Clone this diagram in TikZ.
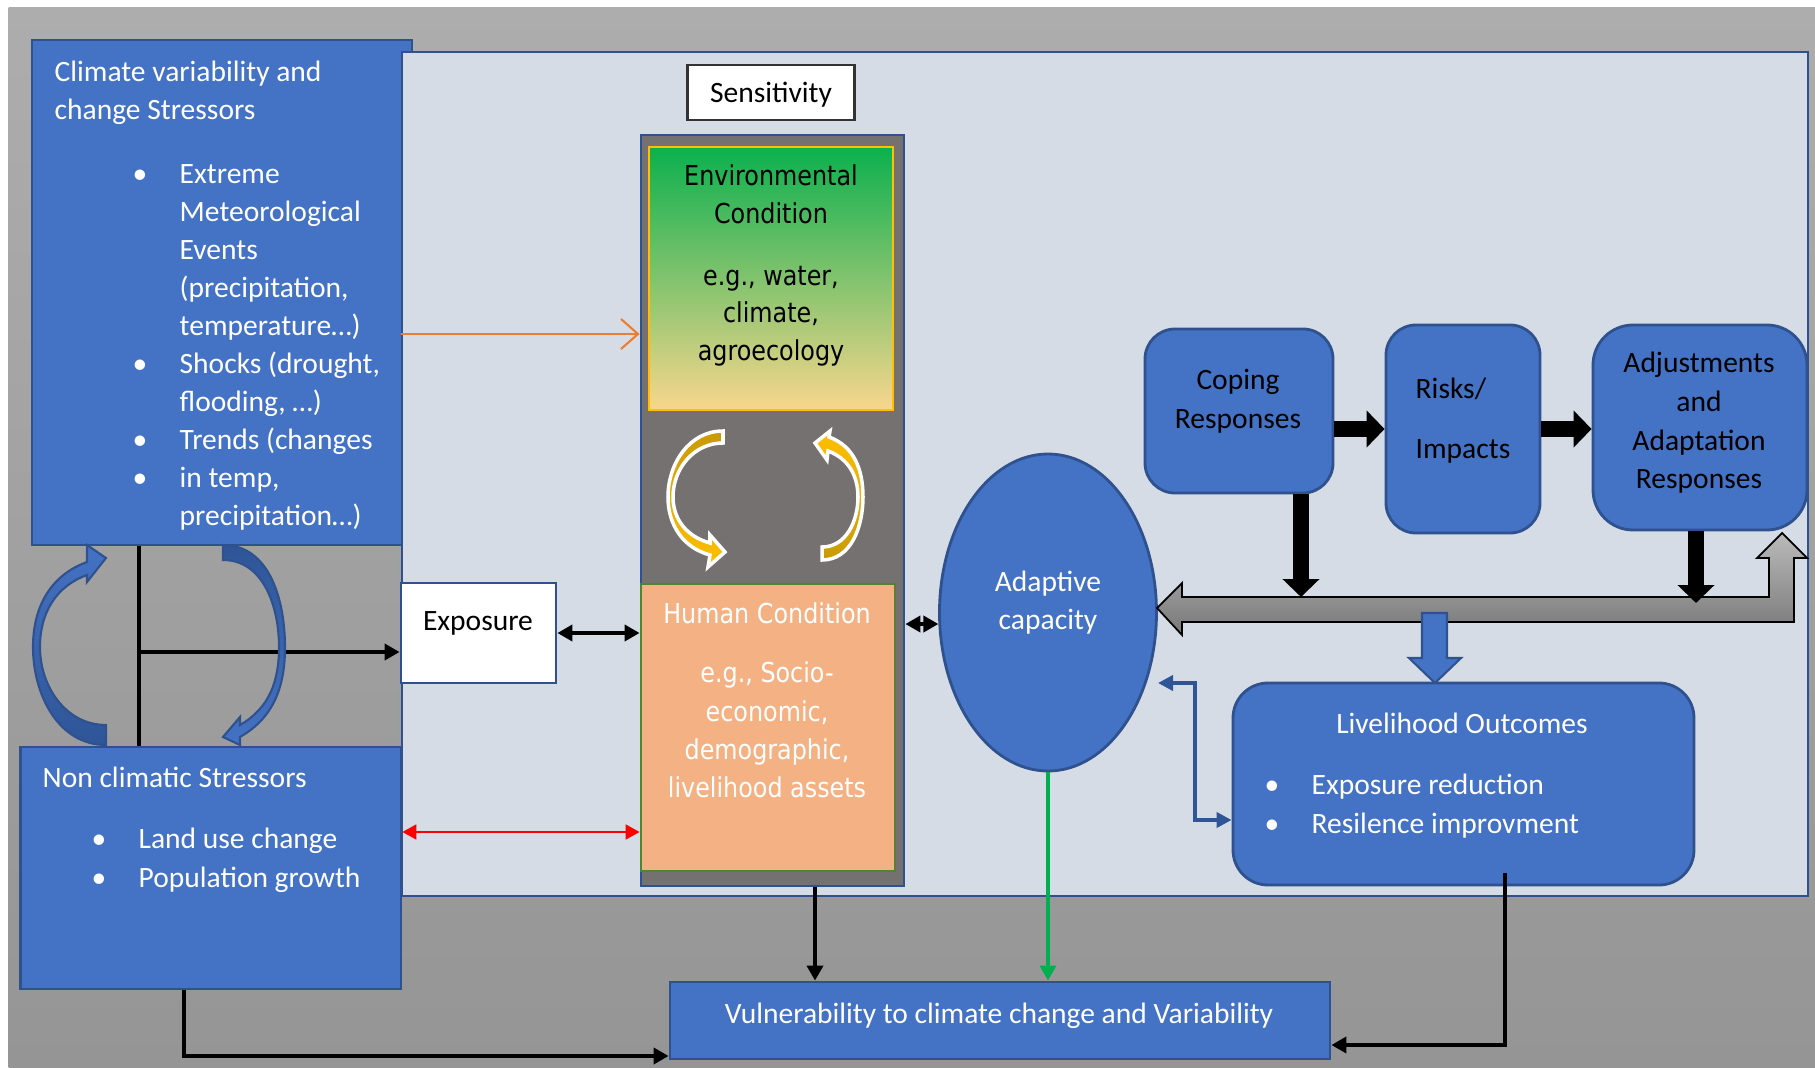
\documentclass[tikz,border=0pt]{standalone}
\usepackage{fontspec}
\setmainfont{Carlito}
\newfontfamily\tahoma[FakeStretch=0.87]{DejaVu Sans}
\usetikzlibrary{positioning, arrows.meta, fit, shapes.geometric}

\definecolor{boxblue}{HTML}{4472C4}
\definecolor{edgeblue}{HTML}{2F528F}
\definecolor{arrowblue}{HTML}{2F5597}
\definecolor{panel}{HTML}{D6DCE5}
\definecolor{sensgrey}{HTML}{767171}
\definecolor{humanfill}{HTML}{F4B183}
\definecolor{humanedge}{HTML}{548235}
\definecolor{envgreen}{HTML}{0BB04E}
\definecolor{envsand}{HTML}{F9D68D}
\definecolor{gold}{HTML}{FFC000}
\definecolor{darkgold}{HTML}{C99A06}
\definecolor{linegreen}{HTML}{00B050}
\definecolor{linkorange}{HTML}{ED7D31}
\definecolor{bgtop}{HTML}{ADADAD}
\definecolor{bgbottom}{HTML}{959595}

\newcommand{\itemdot}{\makebox[0.47cm][l]{•}}
\newcommand{\itemgap}{\hspace*{0.47cm}}

\begin{document}
\begin{tikzpicture}[
    >={Triangle[length=0.15cm,width=0.16cm]},
    bluebox/.style={draw=edgeblue, fill=boxblue, line width=0.8pt, inner sep=0pt},
    roundbox/.style={bluebox, rounded corners=0.3cm},
    txt/.style={inner sep=0pt, font=\fontsize{8.4}{10.8}\selectfont},
    wtxt/.style={txt, text=white},
    tahomatxt/.style={inner sep=0pt, align=center, font=\tahoma\fontsize{7.8}{10.7}\selectfont},
    blkline/.style={draw=black, line width=1.1pt},
    fatarrow/.style={line width=0.165cm, -{Triangle[length=0.18cm,width=0.36cm]}},
    bluecurve/.style={draw=edgeblue, line width=0.6pt},
    goldcurve/.style={draw=white, line width=1pt}
  ]
		\useasboundingbox (0,0) rectangle (18.15,10.67);
		% Draw background
		\fill[white] (0,0) rectangle (18.15,10.67);
		\fill[top color=bgtop, bottom color=bgbottom] (0.085,0) rectangle (18.15,10.59);
		% Stressor boxes and panel
		\node[bluebox, fit={(0.32,5.22) (4.12,10.27)}] (climate) {};
		\node[draw=edgeblue, fill=panel, line width=0.8pt, inner sep=0pt, fit={(4.02,1.71) (18.08,10.15)}] (bigbox) {};
		\node[bluebox, fit={(0.205,0.78) (4.01,3.20)}] (nonclim) {};
		% Sensitivity column
		\node[txt, draw=black!80, fill=white, line width=0.6pt, minimum width=1.67cm, minimum height=0.556cm, text depth=0pt] (senslabel) at (7.71,9.745) {Sensitivity};
		\node[draw=edgeblue, fill=sensgrey, line width=0.8pt, inner sep=0pt, fit={(6.41,1.81) (9.04,9.32)}] (sens) {};
		\node[draw=gold, line width=0.8pt, top color=envgreen, bottom color=envsand, inner sep=0pt, fit={(6.49,6.57) (8.93,9.20)}] (env) {};
		\node[draw=humanedge, fill=humanfill, line width=0.8pt, inner sep=0pt, fit={(6.41,1.96) (8.95,4.83)}] (human) {};
		% Exposure
		\node[draw=edgeblue, fill=white, line width=0.8pt, inner sep=0pt, fit={(4.01,3.84) (5.56,4.84)}] (expo) {};
		% Adaptive capacity and responses
		\node[bluebox, ellipse, minimum width=2.17cm, minimum height=3.17cm] (adapt) at (10.48,4.545) {};
		\node[roundbox, fit={(11.45,5.74) (13.33,7.38)}] (coping) {};
		\node[roundbox, fit={(13.86,5.34) (15.40,7.42)}] (risks) {};
		\node[roundbox, rounded corners=0.4cm, fit={(15.93,5.37) (18.07,7.42)}] (adjust) {};
		\node[roundbox, rounded corners=0.35cm, fit={(12.33,1.82) (16.94,3.84)}] (live) {};
		\node[bluebox, fit={(6.70,0.08) (13.30,0.85)}] (vuln) {};

		% Grey feedback arrow
		\filldraw[top color=black!27, bottom color=black!53, draw=black, line width=0.5pt]
		  (11.57,4.59) -- (11.82,4.84) -- (11.82,4.70) -- (17.69,4.70) -- (17.69,5.09) -- (17.57,5.09)
		  -- (17.82,5.34) -- (18.07,5.09) -- (17.94,5.09) -- (17.94,4.45) -- (11.82,4.45) -- (11.82,4.32) -- cycle;
		% Thick black arrows
		\coordinate (greyhit1) at (13.01,4.70);
		\coordinate (greyhit2) at (16.96,4.64);
		\draw[fatarrow] (coping.east |- risks.west) -- (risks.west);
		\draw[fatarrow] (risks.east) -- (risks.east -| adjust.west);
		\draw[fatarrow] (coping.south -| greyhit1) -- (greyhit1);
		\draw[fatarrow] (adjust.south -| greyhit2) -- (greyhit2);
		% Blue block arrow to outcomes
		\filldraw[fill=boxblue, draw=edgeblue, line width=0.6pt] (14.22,4.54) -- (14.47,4.54) -- (14.47,4.09)
		  -- (14.61,4.09) -- (14.35,3.84) -- (14.09,4.09) -- (14.22,4.09) -- cycle;

		% Connectors
		\draw[draw=linkorange, line width=0.6pt, -{Straight Barb[length=0.17cm,width=0.3cm]}] (bigbox.west |- 0,7.33) -- (sens.west |- 0,7.33);
		\coordinate (split) at (1.39,4.15);
		\draw[blkline] (climate.south -| split) -- (nonclim.north -| split);
		\draw[blkline, ->] (split) -- (expo.west |- split);
		\draw[blkline, <->] (expo.east) -- (expo.east -| human.west);
		\draw[blkline, <->] (adapt.186 -| sens.east) -- (adapt.186);
		\draw[red, line width=0.5pt, {Triangle[length=0.14cm,width=0.15cm]}-{Triangle[length=0.14cm,width=0.15cm]}] (nonclim.east |- 0,2.35) -- (human.west |- 0,2.35);
		\draw[blkline, ->] (sens.south -| 8.15,0) -- (vuln.north -| 8.15,0);
		\draw[draw=linegreen, line width=1pt, ->] (adapt.south) -- (adapt.south |- vuln.north);
		\coordinate (liveout) at (15.05,1.94);
		\draw[blkline, ->] (liveout) |- (vuln.east |- 0,0.22);
		\draw[blkline, ->] (nonclim.south -| 1.84,0) |- (vuln.west |- 0,0.11);
		\coordinate (adaptgap) at (11.58,3.84);
		\draw[draw=arrowblue, line width=1.4pt, {Triangle[length=0.15cm,width=0.15cm]}-{Triangle[length=0.15cm,width=0.15cm]}] (adaptgap) -| (11.95,2.47) -- (live.west |- 0,2.47);

		% Curved arrows between stressors
		\filldraw[bluecurve, top color=boxblue, bottom color=arrowblue]
		  (1.06,3.22) to[out=180,in=-90] (0.33,4.20) to[out=90,in=200] (0.87,5.05) -- (0.87,5.22) -- (1.06,5.09)
		  -- (0.87,4.85) -- (0.87,4.92) to[out=200,in=90] (0.40,4.20) to[out=-90,in=180] (1.06,3.42) -- cycle;
		\filldraw[bluecurve, top color=arrowblue, bottom color=boxblue]
		  (2.23,5.22) to[out=0,in=90] (2.85,4.20) to[out=-90,in=30] (2.40,3.30) -- (2.40,3.22) -- (2.23,3.30)
		  -- (2.40,3.50) -- (2.40,3.42) to[out=30,in=-90] (2.79,4.20) to[out=90,in=0] (2.23,5.07) -- cycle;
		% Curved arrows between conditions
		\filldraw[goldcurve, top color=darkgold, bottom color=gold]
		  (7.23,6.36) to[out=180,in=90] (6.68,5.70) to[out=-90,in=165] (7.10,5.12) -- (7.08,5.00) -- (7.25,5.15)
		  -- (7.10,5.32) -- (7.10,5.24) to[out=165,in=-90] (6.73,5.70) to[out=90,in=180] (7.23,6.24) -- cycle;
		\filldraw[goldcurve, top color=gold, bottom color=darkgold]
		  (8.22,5.07) to[out=0,in=-90] (8.63,5.70) to[out=90,in=-20] (8.29,6.30) -- (8.30,6.36) -- (8.15,6.24)
		  -- (8.27,6.07) -- (8.28,6.16) to[out=-20,in=90] (8.58,5.70) to[out=-90,in=0] (8.22,5.20) -- cycle;

		% Labels
		\node[wtxt, anchor=north west, align=left] (climtitle) at (0.54,10.07) {Climate variability and\\change Stressors};
		\node[wtxt, anchor=north west, align=left] (climlist) at (1.32,9.03) {\itemdot Extreme\\\itemgap Meteorological\\\itemgap Events\\\itemgap (precipitation,\\\itemgap temperature…)\\\itemdot Shocks (drought,\\\itemgap flooding, …)\\\itemdot Trends (changes\\\itemdot in temp,\\\itemgap precipitation…)};
		\node[wtxt, anchor=north west] (nontitle) at (0.42,3.01) {Non climatic Stressors};
		\node[wtxt, anchor=north west, align=left, font=\fontsize{8.4}{11.3}\selectfont] (nonlist) at (0.91,2.40) {\itemdot Land use change\\\itemdot Population growth};
		\node[txt] (expotext) at (4.78,4.44) {Exposure};
		\node[tahomatxt, anchor=north] (envtext) at (7.71,9.03) {Environmental\\Condition\\[0.245cm]e.g., water,\\climate,\\agroecology};
		\node[tahomatxt, anchor=north, text=white, font=\tahoma\fontsize{7.8}{10.9}\selectfont] (humantext) at (7.67,4.65) {Human Condition\\[0.21cm]e.g., Socio-\\economic,\\demographic,\\livelihood assets};
		\node[wtxt, align=center, font=\fontsize{8.4}{11}\selectfont] (adapttext) at (10.48,4.645) {Adaptive\\capacity};
		\node[txt, align=center, font=\fontsize{8.4}{11}\selectfont] (copingtext) at (12.38,6.66) {Coping\\Responses};
		\node[txt, anchor=north west, align=left] (riskstext) at (14.15,6.90) {Risks/\\[0.22cm]Impacts};
		\node[txt, align=center, font=\fontsize{8.4}{11}\selectfont] (adjusttext) at (16.99,6.44) {Adjustments\\and\\Adaptation\\Responses};
		\node[wtxt] (livetitle) at (14.62,3.44) {Livelihood Outcomes};
		\node[wtxt, anchor=north west, align=left, font=\fontsize{8.4}{11.3}\selectfont] (livelist) at (12.64,2.94) {\itemdot Exposure reduction\\\itemdot Resilence improvment};
		\node[wtxt] (vulntext) at (9.99,0.51) {Vulnerability to climate change and Variability};
	\end{tikzpicture}
\end{document}
